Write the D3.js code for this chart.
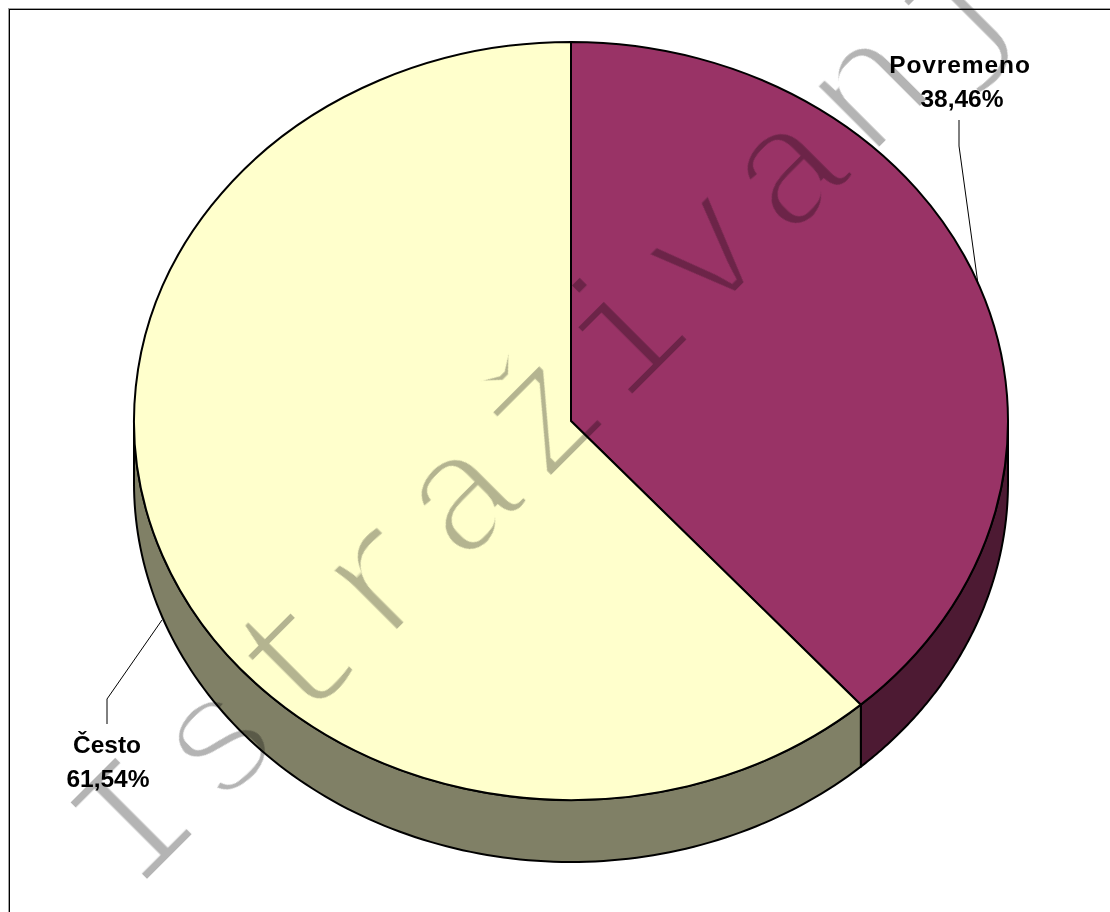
<!DOCTYPE html>
<html>
<head>
<meta charset="utf-8">
<script src="https://cdn.jsdelivr.net/npm/d3@7"></script>
<style>
    html, body { margin: 0; padding: 0; background: #fff; overflow: hidden; }
    svg { display: block; }
    .label { font-family: "Liberation Sans", sans-serif; font-weight: bold; font-size: 24.5px; fill: #000; text-anchor: middle; }
</style>
</head>
<body>
<div id="chart"></div>
<script>
const categories = ["Povremeno", "Često"];
const shares = [38.46, 61.54];
const shareLabels = ["38,46%", "61,54%"];
const topColors = ["#993366", "#FFFFCC"];
const sideColors = ["#4D1A33", "#808066"];
const watermark = "Istraživanj";

const width = 1110;
const height = 912;
const cx = 571;
const cy = 421;
const rx = 437;
const ry = 379;
const depth = 62;

const svg = d3.select("#chart")
    .append("svg")
    .attr("width", width)
    .attr("height", height);

// thin the mono font down to the light strokes of the watermark
const thin = svg.append("defs").append("filter")
    .attr("id", "thin")
    .attr("x", "-5%").attr("y", "-20%")
    .attr("width", "110%").attr("height", "140%");
thin.append("feMorphology").attr("operator", "erode").attr("radius", 2.6);

// chart frame, grey shadow line first
svg.append("rect")
    .attr("x", 8.5).attr("y", 8.5)
    .attr("width", width).attr("height", height)
    .attr("fill", "none").attr("stroke", "#a0a0a0");
svg.append("rect")
    .attr("x", 9.5).attr("y", 9.5)
    .attr("width", width).attr("height", height)
    .attr("fill", "none").attr("stroke", "#000");

const pie = d3.pie().sort(null).value((d) => d);
const arcs = pie(shares);

// scales for the unit circle onto the tilted ellipse
const x = d3.scaleLinear().domain([-1, 1]).range([cx - rx, cx + rx]);
const y = d3.scaleLinear().domain([-1, 1]).range([cy - ry, cy + ry]);

// pie side: only the part facing the viewer (lower half) is visible
function sidePath(a) {
    const start = Math.max(a.startAngle, Math.PI / 2);
    const end = Math.min(a.endAngle, Math.PI * 1.5);
    const steps = d3.range(0, 121).map((i) => start + (end - start) * i / 120);
    const front = steps.map((t) => [x(Math.sin(t)), y(-Math.cos(t))]);
    const back = steps.slice().reverse().map((t) => [x(Math.sin(t)), y(-Math.cos(t)) + depth]);
    return d3.line()(front.concat(back)) + "Z";
}

svg.append("g")
    .selectAll("path")
    .data(arcs)
    .join("path")
    .attr("d", sidePath)
    .attr("fill", (d, i) => sideColors[i])
    .attr("stroke", "#000")
    .attr("stroke-width", 2)
    .attr("stroke-linejoin", "round");

const arc = d3.arc().innerRadius(0).outerRadius(rx);
svg.append("g")
    .attr("transform", `translate(${cx},${cy}) scale(1,${ry / rx})`)
    .selectAll("path")
    .data(arcs)
    .join("path")
    .attr("d", arc)
    .attr("fill", (d, i) => topColors[i])
    .attr("stroke", "#000")
    .attr("stroke-width", 2)
    .attr("stroke-linejoin", "round")
    .attr("vector-effect", "non-scaling-stroke");

// leader lines
const leaders = [
    [[959, 120], [959, 146], [978, 284]],
    [[107, 724], [107, 699], [162, 620]],
];
svg.append("g")
    .selectAll("path")
    .data(leaders)
    .join("path")
    .attr("d", d3.line())
    .attr("fill", "none")
    .attr("stroke", "#000")
    .attr("stroke-width", 1);

// labels
const labelPos = [[960, 73, 962, 107], [107, 753, 108, 787]];
const labels = svg.append("g");
categories.forEach((c, i) => {
    const p = labelPos[i];
    labels.append("text").attr("class", "label")
        .attr("x", p[0]).attr("y", p[1])
        .style("letter-spacing", i === 0 ? "0.9px" : null)
        .text(c);
    labels.append("text").attr("class", "label")
        .attr("x", p[2]).attr("y", p[3])
        .text(shareLabels[i]);
});

// watermark across the whole chart
svg.append("text")
    .attr("transform", "translate(135,895) rotate(-45)")
    .attr("font-family", "Liberation Mono")
    .attr("font-size", 172)
    .style("letter-spacing", "12px")
    .attr("fill", "#b4b4b4")
    .attr("filter", "url(#thin)")
    .style("mix-blend-mode", "multiply")
    .text(watermark);
</script>
</body>
</html>
